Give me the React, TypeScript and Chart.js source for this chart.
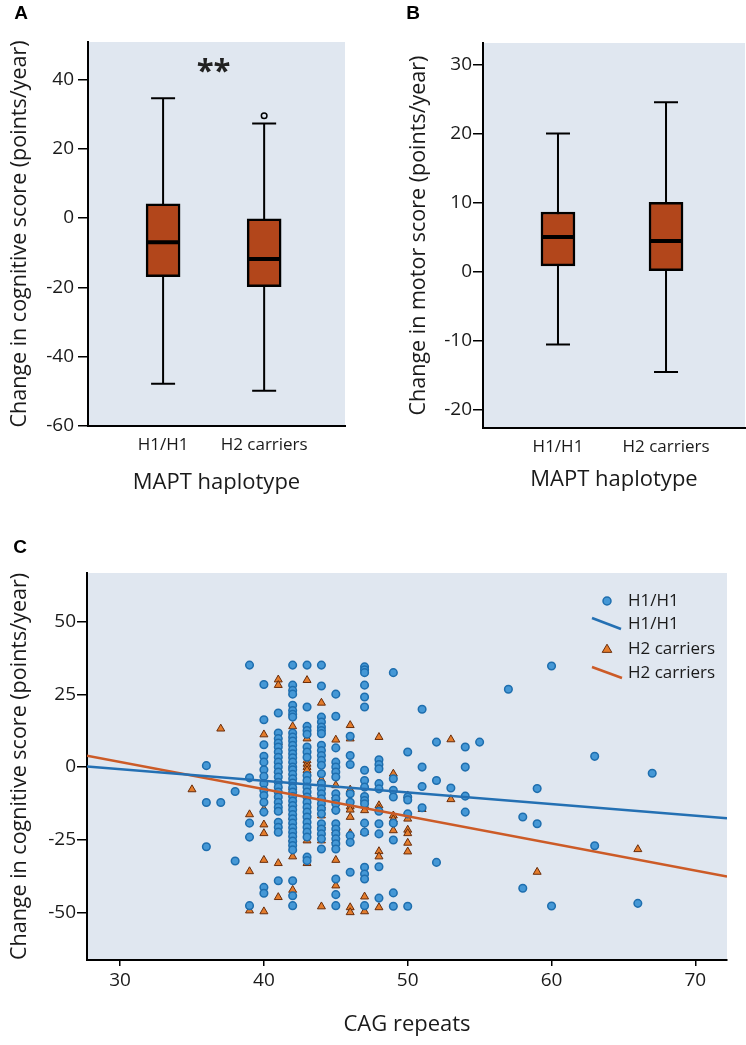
import React, { useEffect, useRef } from 'react';
import { Chart, registerables } from 'chart.js';

Chart.register(...registerables);

const FONT = "'Open Sans', 'DejaVu Sans', sans-serif";
const INK = '#1a1a1a';
const PLOT_BG = '#e0e7f0';
const BOX_FILL = '#b2461b';

// ---------- Panels A and B: box plots ----------
const haplotypes = ['H1/H1', 'H2 carriers'];

const cogLow = [-47.8, -49.8];
const cogQ1 = [-16.9, -19.8];
const cogMedian = [-7.0, -11.8];
const cogQ3 = [4.1, -0.2];
const cogHigh = [34.6, 27.3];
const cogOutliers: number[][] = [[], [29.5]];
const cogTicks = [-60, -40, -20, 0, 20, 40];

const motLow = [-10.6, -14.6];
const motQ1 = [0.8, 0.0];
const motMedian = [5.0, 4.4];
const motQ3 = [8.6, 10.0];
const motHigh = [20.0, 24.5];
const motOutliers: number[][] = [[], []];
const motTicks = [-20, -10, 0, 10, 20, 30];

// ---------- Panel C: scatter ----------
const cagTicks = [30, 40, 50, 60, 70];
const changeTicks = [-50, -25, 0, 25, 50];

// [CAG repeats, change values at that CAG]
const h1Columns: [number, number[]][] = [
  [36, [0.5, -12.2, -27.4]],
  [37, [-12.2]],
  [38, [-8.4, -32.3]],
  [39, [35.1, -3.7, -19.3, -24.1, -47.7]],
  [40, [28.4, 16.3, 7.7, 3.7, 1.7, -0.9, -3.2, -5.7, -8.0, -9.8, -12.1, -15.5, -41.4, -43.4]],
  [41, [18.6, 11.7, 9.8, 8.3, 6.9, 5.2, 3.4, 1.7, 0, -1.7, -3.4, -5.2, -6.9, -8.6, -10.3, -12.1, -13.8, -15.2, -19.0, -20.7, -22.4, -39.1]],
  [42, [35.1, 28.2, 26.4, 25.1, 21.3, 19.5, 18.2, 17.2, 11.7, 10.3, 9.0, 7.5, 6.0, 4.6, 3.2, 1.7, 0, -0.9, -2.5, -4.0, -5.5, -7.1, -8.6, -10.1, -11.7, -13.2, -14.7, -16.3, -17.8, -19.3, -20.9, -22.4, -23.9, -25.5, -27.0, -28.5, -39.1, -44.3, -47.7]],
  [43, [35.1, 20.7, 14.0, 12.6, 11.3, 6.9, 5.2, 3.4, -2.9, -4.6, -6.9, -8.6, -10.3, -12.1, -13.8, -15.5, -17.2, -19.0, -20.7, -22.4, -24.1, -31.0, -32.2]],
  [44, [35.1, 27.9, 17.2, 15.5, 13.8, 12.6, 11.5, 7.5, 5.7, 4.0, 2.3, 0.6, -2.3, -5.7, -7.5, -9.2, -10.9, -12.6, -14.4, -16.1, -19.5, -21.3, -23.0, -24.7, -28.2]],
  [45, [25.1, 17.5, 6.6, 1.7, 0, -1.7, -3.4, -9.2, -10.9, -12.6, -14.9, -19.5, -21.3, -23.0, -24.7, -26.4, -28.2, -38.5, -43.9, -47.7]],
  [46, [10.6, 4.0, 0.9, -9.2, -12.1, -23.6, -25.9, -36.2]],
  [47, [34.5, 33.5, 32.5, 28.2, 24.1, 20.7, -1.1, -4.6, -6.9, -10.1, -11.5, -12.6, -19.3, -22.4, -34.5, -36.8, -38.5, -47.7]],
  [48, [2.5, 0.9, -0.6, -5.7, -7.5, -15.2, -19.5, -23.0, -34.3, -45.1]],
  [49, [32.5, -4.0, -8.0, -10.3, -19.3, -25.1, -43.3, -47.9]],
  [50, [5.2, -10.3, -11.3, -16.1, -47.9]],
  [51, [19.9, 0, -6.7, -14.0]],
  [52, [8.6, -4.6, -32.8]],
  [53, [-7.2]],
  [54, [6.9, 0, -10.0, -15.5]],
  [55, [8.6]],
  [57, [26.8]],
  [58, [-17.2, -41.7]],
  [59, [-7.4, -19.5]],
  [60, [34.8, -47.8]],
  [63, [3.7, -27.1]],
  [66, [-46.9]],
  [67, [-2.1]],
];

const h2Columns: [number, number[]][] = [
  [35, [-7.7]],
  [37, [13.2]],
  [39, [-16.3, -35.9, -49.4]],
  [40, [11.2, -14.5, -19.8, -22.8, -32.0, -49.7]],
  [41, [30.1, 28.2, 8.5, -1.0, -15.0, -33.1, -44.8]],
  [42, [14.0, -6.9, -12.4, -17.2, -24.7, -30.8, -42.3]],
  [43, [29.9, 9.8, 2.3, 1.1, 0, -1.1, -9.2, -16.1, -25.3, -33.1]],
  [44, [22.1, -4.4, -10.3, -13.2, -16.7, -20.1, -25.3, -48.0]],
  [45, [9.4, -6.3, -9.8, -13.8, -21.8, -25.3, -32.0, -40.8]],
  [46, [14.4, 9.8, -7.8, -13.6, -14.7, -17.2, -22.8, -48.3, -50.0]],
  [47, [-13.2, -14.9, -22.4, -44.6, -49.7]],
  [48, [10.3, -13.2, -14.4, -29.0, -30.8, -48.3]],
  [49, [-2.3, -16.7, -18.0, -21.8]],
  [50, [-9.8, -17.8, -21.6, -22.8, -26.1, -29.1]],
  [51, [-14.5]],
  [53, [9.5, -11.1]],
  [59, [-36.1]],
  [66, [-28.3]],
];

// Fitted regression lines (end points read at the plot edges)
const h1FitCag = [27.7, 72.2];
const h1FitChange = [0.2, -17.6];
const h2FitCag = [27.7, 72.2];
const h2FitChange = [3.9, -37.7];

const legendLabels = ['H1/H1', 'H1/H1', 'H2 carriers', 'H2 carriers'];

const H1_FILL = '#4598d6';
const H1_EDGE = '#1e6eae';
const H2_FILL = '#e47c2c';
const H2_EDGE = '#6a2d0a';
const H1_LINE = '#2470b3';
const H2_LINE = '#cc5b27';

const flatten = (cols: [number, number[]][]) =>
  cols.flatMap(([x, ys]) => ys.map((y) => ({ x, y })));

const bgPlugin = {
  id: 'plotBg',
  beforeDraw(chart: any) {
    const { ctx, chartArea: a } = chart;
    ctx.save();
    ctx.fillStyle = PLOT_BG;
    ctx.fillRect(a.left, a.top, a.right - a.left, a.bottom - a.top);
    ctx.restore();
  },
};

function letterPlugin(letter: string, x: number, y: number) {
  return {
    id: 'panelLetter',
    afterDraw(chart: any) {
      const ctx = chart.ctx;
      ctx.save();
      ctx.font = "bold 19px 'Liberation Sans', Arial, sans-serif";
      ctx.fillStyle = '#000';
      ctx.textAlign = 'center';
      ctx.textBaseline = 'middle';
      ctx.fillText(letter, x, y);
      ctx.restore();
    },
  };
}

function boxPlugin(low: number[], q1: number[], med: number[], q3: number[], high: number[], outl: number[][], boxW: number, capW: number) {
  return {
    id: 'boxParts',
    beforeDatasetsDraw(chart: any) {
      const { ctx, scales: { x, y } } = chart;
      ctx.save();
      ctx.strokeStyle = '#000';
      ctx.lineWidth = 2;
      low.forEach((_, i) => {
        const cx = x.getPixelForValue(i);
        ctx.beginPath();
        ctx.moveTo(cx, y.getPixelForValue(high[i]));
        ctx.lineTo(cx, y.getPixelForValue(low[i]));
        ctx.moveTo(cx - capW / 2, y.getPixelForValue(high[i]));
        ctx.lineTo(cx + capW / 2, y.getPixelForValue(high[i]));
        ctx.moveTo(cx - capW / 2, y.getPixelForValue(low[i]));
        ctx.lineTo(cx + capW / 2, y.getPixelForValue(low[i]));
        ctx.stroke();
      });
      ctx.restore();
    },
    afterDatasetsDraw(chart: any) {
      const { ctx, scales: { x, y } } = chart;
      ctx.save();
      ctx.strokeStyle = '#000';
      low.forEach((_, i) => {
        const cx = x.getPixelForValue(i);
        ctx.lineWidth = 4;
        ctx.beginPath();
        ctx.moveTo(cx - boxW / 2 + 1, y.getPixelForValue(med[i]));
        ctx.lineTo(cx + boxW / 2 - 1, y.getPixelForValue(med[i]));
        ctx.stroke();
        ctx.lineWidth = 1.5;
        outl[i].forEach((v) => {
          ctx.beginPath();
          ctx.arc(cx, y.getPixelForValue(v), 2.8, 0, Math.PI * 2);
          ctx.fillStyle = PLOT_BG;
          ctx.fill();
          ctx.stroke();
        });
      });
      ctx.restore();
    },
  };
}

function starsPlugin(text: string, xv: number, yv: number) {
  return {
    id: 'stars',
    afterDraw(chart: any) {
      const { ctx, scales: { x, y } } = chart;
      ctx.save();
      ctx.font = `bold 31px ${FONT}`;
      ctx.fillStyle = '#222';
      ctx.textAlign = 'center';
      ctx.textBaseline = 'middle';
      ctx.fillText(text, x.getPixelForValue(xv), y.getPixelForValue(yv));
      ctx.restore();
    },
  };
}

interface BoxOpts {
  low: number[]; q1: number[]; med: number[]; q3: number[]; high: number[]; outl: number[][];
  ticks: number[]; yMin: number; yMax: number; xMin: number; xMax: number;
  yTitle: string; padLeft: number; padRight: number; padTop: number; yWidth: number; xHeight: number;
  xTitlePad: number; tickPad: number; letter: string; letterX: number; letterY: number; stars?: boolean;
}

function boxConfig(o: BoxOpts): any {
  const boxW = 34;
  const plugins: any[] = [bgPlugin, boxPlugin(o.low, o.q1, o.med, o.q3, o.high, o.outl, boxW, 24), letterPlugin(o.letter, o.letterX, o.letterY)];
  if (o.stars) plugins.push(starsPlugin('**', 0.5, 42.0));
  return {
    type: 'bar',
    data: {
      datasets: [
        {
          data: haplotypes.map((_, i) => ({ x: i, y: [o.q1[i], o.q3[i]] })),
          backgroundColor: BOX_FILL,
          borderColor: '#000',
          borderWidth: 2.5,
          borderSkipped: false,
          barThickness: boxW,
        },
      ],
    },
    plugins,
    options: {
      animation: false,
      responsive: false,
      maintainAspectRatio: false,
      layout: { padding: { left: o.padLeft, right: o.padRight, top: o.padTop, bottom: 0 } },
      plugins: { legend: { display: false }, tooltip: { enabled: false } },
      scales: {
        x: {
          type: 'linear',
          min: o.xMin,
          max: o.xMax,
          offset: false,
          afterBuildTicks: (s: any) => { s.ticks = haplotypes.map((_, i) => ({ value: i })); },
          afterFit: (s: any) => { s.height = o.xHeight; },
          ticks: { callback: (v: any) => haplotypes[v] ?? '', font: { family: FONT, size: 17 }, color: INK, padding: 9, maxRotation: 0, autoSkip: false },
          grid: { display: true, drawOnChartArea: false, drawTicks: false, offset: false },
          border: { display: true, color: '#000', width: 2 },
          title: { display: true, text: 'MAPT haplotype', font: { family: FONT, size: 22 }, color: INK, padding: { top: 0, bottom: o.xTitlePad } },
        },
        y: {
          type: 'linear',
          min: o.yMin,
          max: o.yMax,
          afterBuildTicks: (s: any) => { s.ticks = o.ticks.map((v) => ({ value: v })); },
          afterFit: (s: any) => { s.width = o.yWidth; },
          ticks: { font: { family: FONT, size: 19 }, color: INK, padding: o.tickPad },
          grid: { display: true, drawOnChartArea: false, drawTicks: true, tickLength: 10, color: '#000', lineWidth: 1.5 },
          border: { display: true, color: '#000', width: 2 },
          title: { display: true, text: o.yTitle, font: { family: FONT, size: 21.5 }, color: INK, padding: { top: 7, bottom: 0 } },
        },
      },
    },
  };
}

const legendPlugin = {
  id: 'innerLegend',
  afterDraw(chart: any) {
    const { ctx, chartArea: a } = chart;
    const mx = a.right - 120;
    const tx = a.right - 99;
    const rows = [a.top + 28, a.top + 51, a.top + 76, a.top + 100];
    ctx.save();
    ctx.font = `17px ${FONT}`;
    ctx.fillStyle = INK;
    ctx.textAlign = 'left';
    ctx.textBaseline = 'middle';
    legendLabels.forEach((t, i) => ctx.fillText(t, tx, rows[i]));
    // circle marker
    ctx.beginPath();
    ctx.arc(mx, rows[0], 4, 0, Math.PI * 2);
    ctx.fillStyle = H1_FILL;
    ctx.fill();
    ctx.lineWidth = 1.5;
    ctx.strokeStyle = H1_EDGE;
    ctx.stroke();
    // line markers
    ctx.lineWidth = 2.5;
    ctx.strokeStyle = H1_LINE;
    ctx.beginPath();
    ctx.moveTo(mx - 15, rows[1] - 6);
    ctx.lineTo(mx + 14, rows[1] + 5);
    ctx.stroke();
    ctx.strokeStyle = H2_LINE;
    ctx.beginPath();
    ctx.moveTo(mx - 15, rows[3] - 6);
    ctx.lineTo(mx + 15, rows[3] + 5);
    ctx.stroke();
    // triangle marker
    const r = 4.8;
    ctx.beginPath();
    ctx.moveTo(mx, rows[2] - r);
    ctx.lineTo(mx + r, rows[2] + r * 0.7);
    ctx.lineTo(mx - r, rows[2] + r * 0.7);
    ctx.closePath();
    ctx.fillStyle = H2_FILL;
    ctx.fill();
    ctx.lineWidth = 1;
    ctx.strokeStyle = H2_EDGE;
    ctx.stroke();
    ctx.restore();
  },
};

function scatterConfig(): any {
  return {
    type: 'scatter',
    data: {
      datasets: [
        {
          type: 'line',
          label: 'H1/H1',
          data: h1FitCag.map((x, i) => ({ x, y: h1FitChange[i] })),
          borderColor: H1_LINE,
          borderWidth: 2.5,
          pointRadius: 0,
          showLine: true,
          order: 0,
        },
        {
          type: 'line',
          label: 'H2 carriers',
          data: h2FitCag.map((x, i) => ({ x, y: h2FitChange[i] })),
          borderColor: H2_LINE,
          borderWidth: 2.5,
          pointRadius: 0,
          showLine: true,
          order: 0,
        },
        {
          label: 'H1/H1',
          data: flatten(h1Columns),
          pointStyle: 'circle',
          pointRadius: 3.8,
          backgroundColor: H1_FILL,
          borderColor: H1_EDGE,
          borderWidth: 1.5,
          order: 1,
        },
        {
          label: 'H2 carriers',
          data: flatten(h2Columns),
          pointStyle: 'triangle',
          pointRadius: 4.6,
          backgroundColor: H2_FILL,
          borderColor: H2_EDGE,
          borderWidth: 1,
          order: 2,
        },
      ],
    },
    plugins: [bgPlugin, legendPlugin, letterPlugin('C', 20, 28)],
    options: {
      animation: false,
      responsive: false,
      maintainAspectRatio: false,
      layout: { padding: { left: 0, right: 19, top: 53, bottom: 0 } },
      plugins: { legend: { display: false }, tooltip: { enabled: false } },
      scales: {
        x: {
          type: 'linear',
          min: 27.7,
          max: 72.2,
          afterBuildTicks: (s: any) => { s.ticks = cagTicks.map((v) => ({ value: v })); },
          afterFit: (s: any) => { s.height = 85; },
          ticks: { font: { family: FONT, size: 19 }, color: INK, padding: 3, maxRotation: 0 },
          grid: { display: true, drawOnChartArea: false, drawTicks: true, tickLength: 6, color: '#000', lineWidth: 1.5 },
          border: { display: true, color: '#000', width: 2 },
          title: { display: true, text: 'CAG repeats', font: { family: FONT, size: 22 }, color: INK, padding: { top: 0, bottom: 7 } },
        },
        y: {
          type: 'linear',
          min: -66.4,
          max: 66.8,
          afterBuildTicks: (s: any) => { s.ticks = changeTicks.map((v) => ({ value: v })); },
          afterFit: (s: any) => { s.width = 87; },
          ticks: { font: { family: FONT, size: 19 }, color: INK, padding: 1 },
          grid: { display: true, drawOnChartArea: false, drawTicks: true, tickLength: 10, color: '#000', lineWidth: 1.5 },
          border: { display: true, color: '#000', width: 2 },
          title: { display: true, text: 'Change in cognitive score (points/year)', font: { family: FONT, size: 21.5 }, color: INK, padding: { top: 7, bottom: 0 } },
        },
      },
    },
  };
}

function useChart(ref: React.RefObject<HTMLCanvasElement>, make: () => any) {
  useEffect(() => {
    if (!ref.current) return;
    const chart = new Chart(ref.current, make());
    return () => chart.destroy();
  }, []);
}

export default function App() {
  const aRef = useRef<HTMLCanvasElement>(null);
  const bRef = useRef<HTMLCanvasElement>(null);
  const cRef = useRef<HTMLCanvasElement>(null);

  useChart(aRef, () =>
    boxConfig({
      low: cogLow, q1: cogQ1, med: cogMedian, q3: cogQ3, high: cogHigh, outl: cogOutliers,
      ticks: cogTicks, yMin: -60, yMax: 50.8, xMin: -0.743, xMax: 1.8,
      yTitle: 'Change in cognitive score (points/year)',
      padLeft: 0, padRight: 28, padTop: 42, yWidth: 88, xHeight: 79, xTitlePad: 9, tickPad: 4,
      letter: 'A', letterX: 21, letterY: 14, stars: true,
    })
  );
  useChart(bRef, () =>
    boxConfig({
      low: motLow, q1: motQ1, med: motMedian, q3: motQ3, high: motHigh, outl: motOutliers,
      ticks: motTicks, yMin: -22.7, yMax: 33.1, xMin: -0.694, xMax: 1.731,
      yTitle: 'Change in motor score (points/year)',
      padLeft: 26, padRight: 1, padTop: 43, yWidth: 84, xHeight: 77, xTitlePad: 12, tickPad: 1,
      letter: 'B', letterX: 40, letterY: 14,
    })
  );
  useChart(cRef, scatterConfig);

  return (
    <div style={{ position: 'absolute', left: 0, top: 0, width: 746, height: 1045, background: '#fff', overflow: 'hidden' }}>
      <canvas ref={aRef} width={373} height={505} style={{ position: 'absolute', left: 0, top: 0 }} />
      <canvas ref={bRef} width={373} height={505} style={{ position: 'absolute', left: 373, top: 0 }} />
      <canvas ref={cRef} width={746} height={525} style={{ position: 'absolute', left: 0, top: 520 }} />
    </div>
  );
}
